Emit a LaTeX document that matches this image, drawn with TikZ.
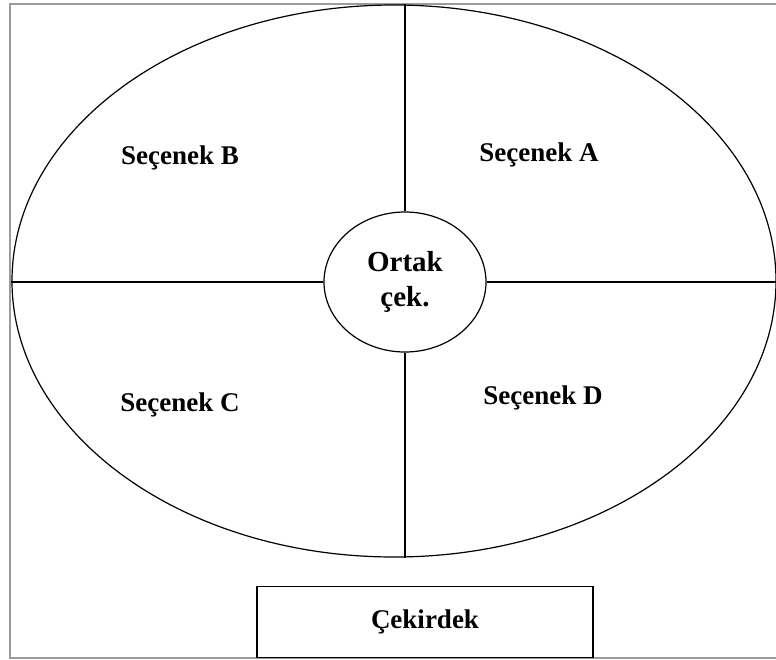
\documentclass[tikz,border=0pt]{standalone}
\usepackage{fontspec}
\setmainfont{Liberation Serif}
\usetikzlibrary{shapes.geometric}
\definecolor{framegray}{RGB}{155,155,155}

\begin{document}
\begin{tikzpicture}
    [
        x=1pt, y=-1pt,
        part line/.style={line width=1.2pt},
        option label/.style={font=\fontsize{27}{33}\selectfont\bfseries, align=center},
    ]
    \useasboundingbox (0,0) rectangle (776,659);
    \clip (0,0) rectangle (776,659);
    \draw[framegray, line width=2pt] (10,4) rectangle (800,658);
    \node[ellipse, draw, part line, inner sep=0pt, minimum width=764pt, minimum height=552pt] (outer) at (394,281) {};
    \node[ellipse, draw, part line, inner sep=0pt, minimum width=162pt, minimum height=140pt, option label, font=\fontsize{29}{33}\selectfont\bfseries] (ortak) at (405,282) {Ortak\\[2pt]çek.};
    % four parts
    \draw[part line] (ortak.north) -- (ortak.north |- outer.north);
    \draw[part line] (ortak.south) -- (ortak.south |- outer.south);
    \draw[part line] (ortak.west) -- (ortak.west -| outer.west);
    \draw[part line] (ortak.east) -- (ortak.east -| outer.east);
    \node[option label] (secA) at (539,155) {Seçenek A};
    \node[option label] (secB) at (180,158) {Seçenek B};
    \node[option label] (secC) at (180,405) {Seçenek C};
    \node[option label] (secD) at (543,398) {Seçenek D};
    \node[draw, part line, option label, minimum width=336pt, minimum height=71pt] (cekirdek) at (425,622) {Çekirdek};
\end{tikzpicture}
\end{document}
